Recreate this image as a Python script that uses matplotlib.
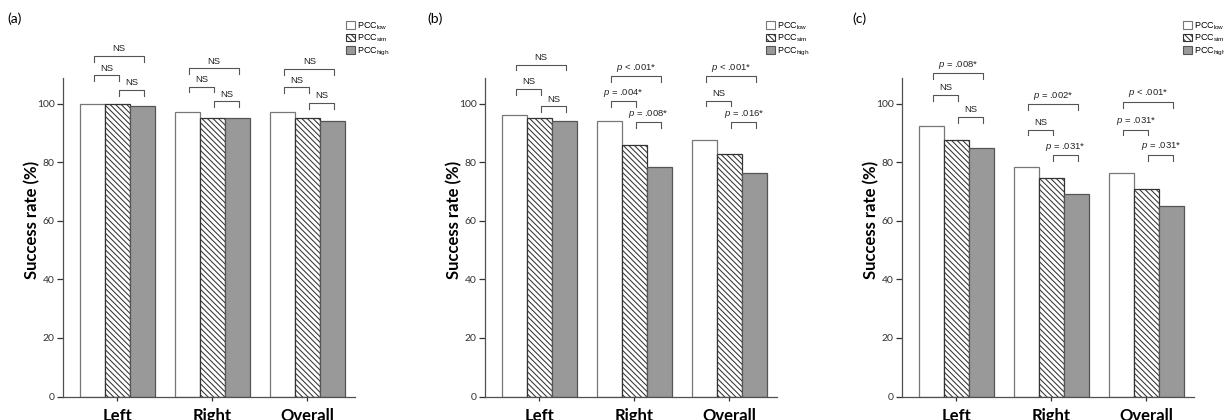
import numpy as np
import matplotlib
matplotlib.use("Agg")
import matplotlib.pyplot as plt
from matplotlib.patches import Patch

plt.rcParams['hatch.linewidth'] = 0.75
plt.rcParams['mathtext.fontset'] = 'custom'
plt.rcParams['mathtext.rm'] = 'Liberation Sans'
plt.rcParams['mathtext.it'] = 'Liberation Sans:italic'

groups = ['Left', 'Right', 'Overall']
series = ['PCC$_{\\mathrm{low}}$', 'PCC$_{\\mathrm{sim}}$', 'PCC$_{\\mathrm{high}}$']
panels = ['(a)', '(b)', '(c)']

# success rate (%) per group: Left, Right, Overall
a_low = [100.0, 97.2, 97.2]
a_sim = [100.0, 95.3, 95.3]
a_high = [99.2, 95.3, 94.3]
b_low = [96.2, 94.3, 87.7]
b_sim = [95.2, 85.8, 83.0]
b_high = [94.3, 78.3, 76.5]
c_low = [92.5, 78.4, 76.5]
c_sim = [87.8, 74.7, 70.9]
c_high = [84.8, 69.1, 65.2]

# comparisons per group: (low vs high, low vs sim, sim vs high)
a_sig = [('NS', 'NS', 'NS'), ('NS', 'NS', 'NS'), ('NS', 'NS', 'NS')]
b_sig = [('NS', 'NS', 'NS'),
         ('$p$ < .001*', '$p$ = .004*', '$p$ = .008*'),
         ('$p$ < .001*', 'NS', '$p$ = .016*')]
c_sig = [('$p$ = .008*', 'NS', 'NS'),
         ('$p$ = .002*', 'NS', '$p$ = .031*'),
         ('$p$ < .001*', '$p$ = .031*', '$p$ = .031*')]

# bracket heights for the annotations
a_lvl = [(116.4, 109.7, 104.7), (112.2, 105.9, 100.8), (112.0, 105.6, 100.4)]
b_lvl = [(113.4, 105.1, 99.1), (109.4, 100.8, 93.7), (109.4, 101.1, 93.7)]
c_lvl = [(110.4, 103.0, 95.5), (99.8, 91.2, 82.4), (100.7, 91.2, 82.6)]

data = [(a_low, a_sim, a_high, a_sig, a_lvl),
        (b_low, b_sim, b_high, b_sig, b_lvl),
        (c_low, c_sim, c_high, c_sig, c_lvl)]

W, H = 1224, 420
fig = plt.figure(figsize=(W / 100, H / 100), dpi=100)

ax_left = [63, 485, 902]
leg_x = [346, 766, 1183]
lab_x = [7, 427, 852]

width = 0.263
x = np.arange(len(groups))
styles = [dict(color='white', edgecolor='#777777', hatch=None),
          dict(color='white', edgecolor='#333333', hatch='\\' * 6),
          dict(color='#999999', edgecolor='#555555', hatch=None)]
linec = '#505050'

for k in range(3):
    low, sim, high, sig, lvl = data[k]
    ax = fig.add_axes([ax_left[k] / W, 23.5 / H, 292 / W, 319 / H])
    for i, vals in enumerate([low, sim, high]):
        st = styles[i]
        ax.bar(x + (i - 1) * width, vals, width, facecolor=st['color'],
               edgecolor=st['edgecolor'], hatch=st['hatch'], linewidth=0.9)
    ax.set_xlim(-0.57, 2.5)
    ax.set_ylim(0, 109)
    ax.set_yticks([0, 20, 40, 60, 80, 100])
    ax.set_xticks(x)
    ax.set_xticklabels(groups, fontsize=12, fontweight='bold', family='Lato')
    for lb in ax.get_yticklabels():
        lb.set_family('Lato')
    ax.tick_params(axis='y', labelsize=7.5, colors='#333333', length=4, width=0.9, pad=2)
    ax.tick_params(axis='x', length=3, width=0.9, colors='#333333', pad=5)
    for lb in ax.get_xticklabels():
        lb.set_color('black')
    for lb in ax.get_yticklabels():
        lb.set_color('#333333')
    ax.spines['top'].set_visible(False)
    ax.spines['right'].set_visible(False)
    for s in ['left', 'bottom']:
        ax.spines[s].set_color(linec)
        ax.spines[s].set_linewidth(0.9)
    ax.set_ylabel('Success rate (%)', fontsize=12, fontweight='bold', family='Lato')
    ax.yaxis.set_label_coords(-0.078, 0.554)

    # significance brackets
    pairs = [(0, 2), (0, 1), (1, 2)]
    for g in range(3):
        for j, (p0, p1) in enumerate(pairs):
            x0 = x[g] + (p0 - 1) * width + 0.02
            x1 = x[g] + (p1 - 1) * width + 0.02
            y = lvl[g][j]
            ax.plot([x0, x0, x1, x1], [y - 2.0, y, y, y - 2.0], color='#555555',
                    lw=0.8, clip_on=False)
            ax.text((x0 + x1) / 2, y + 0.9, sig[g][j], ha='center', va='bottom',
                    fontsize=6.8, family='Liberation Sans', color='#222222')

    handles = [Patch(facecolor=styles[i]['color'], edgecolor=styles[i]['edgecolor'],
                     hatch=styles[i]['hatch'], linewidth=0.8) for i in range(3)]
    ax.legend(handles, series, loc='upper left', frameon=False,
              bbox_to_anchor=(leg_x[k] / W, 1 - 20 / H), bbox_transform=fig.transFigure,
              prop={'family': 'Liberation Sans', 'size': 6.5}, handlelength=1.0,
              handleheight=0.9, handletextpad=0.25, labelspacing=0.15, borderpad=0,
              borderaxespad=0)

    fig.text(lab_x[k] / W, 1 - 19 / H, panels[k], fontsize=10, family='Lato', va='center')

fig.savefig('out.png', dpi=100)
